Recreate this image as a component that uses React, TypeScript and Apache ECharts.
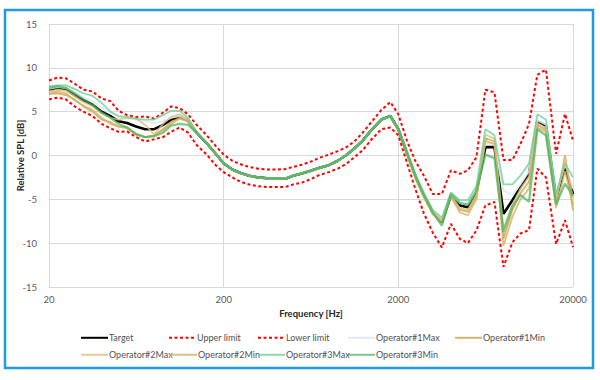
import React, { useEffect, useRef } from "react";
import * as echarts from "echarts";

const freqs = [20, 22.4, 25, 28, 31.5, 35.5, 40, 45, 50, 56, 63, 71, 80, 90, 100, 112, 125, 140, 160, 180, 200, 224, 250, 280, 315, 355, 400, 450, 500, 560, 630, 710, 800, 900, 1000, 1120, 1250, 1400, 1600, 1800, 2000, 2240, 2500, 2800, 3150, 3550, 4000, 4500, 5000, 5600, 6300, 7100, 8000, 9000, 10000, 11200, 12500, 14000, 16000, 18000, 20000];

const xTickLabels = ["20", "200", "2000", "20000"];
const yTicks = [-15, -10, -5, 0, 5, 10, 15];

const target = [7.5, 7.7, 7.6, 6.9, 6.3, 5.8, 5.0, 4.5, 3.9, 3.7, 3.3, 3.0, 3.0, 3.5, 4.1, 4.4, 4.0,
  2.6, 1.4, 0.2, -0.9, -1.6, -2.0, -2.3, -2.5, -2.6, -2.6, -2.65, -2.3, -2.05, -1.75, -1.4, -1.1, -0.6, 0.0, 0.8, 1.7, 2.9, 4.1, 4.5, 3.0,
  0.3, -2.3, -4.5, -6.5, -7.6, -4.6, -5.7, -5.9, -4.2, 0.95, 0.95, -6.65, -5.1, -3.6, -2.1, 3.9, 3.4, -4.9, -1.3, -4.4];

const upperLimit = [8.55, 8.9, 8.8, 8.2, 7.5, 7.3, 6.5, 6.2, 5.1, 4.6, 4.4, 4.45, 4.2, 4.9, 5.6, 5.4, 4.7,
  3.5, 2.3, 1.1, 0.1, -0.6, -1.0, -1.3, -1.5, -1.6, -1.6, -1.55, -1.3, -1.05, -0.7, -0.25, 0.1, 0.5, 0.9, 1.6, 2.6, 3.8, 5.2, 6.1, 4.7,
  1.7, -0.6, -2.3, -4.4, -4.4, -1.7, -2.1, -1.7, -0.2, 7.5, 7.2, -0.5, -0.5, 1.3, 3.6, 9.2, 9.8, 0.2, 4.75, 1.7];

const lowerLimit = [6.4, 6.6, 6.4, 5.6, 5.0, 4.5, 3.6, 3.1, 2.7, 2.75, 2.1, 1.6, 1.85, 2.1, 2.7, 3.2, 2.6,
  1.2, 0.1, -1.1, -1.9, -2.5, -3.0, -3.3, -3.5, -3.6, -3.6, -3.6, -3.3, -3.1, -2.7, -2.2, -1.9, -1.5, -1.0, -0.2, 0.6, 1.8, 3.0, 3.2, 2.3,
  -0.8, -3.8, -6.6, -8.8, -10.5, -7.8, -9.5, -10.0, -8.55, -5.7, -5.3, -12.7, -9.9, -8.9, -8.5, -1.5, -2.5, -10.1, -7.4, -10.45];

const op1Max = [7.6, 7.8, 7.7, 7.2, 6.6, 6.2, 5.4, 4.9, 4.4, 4.2, 4.1, 3.9, 3.7, 3.9, 4.3, 4.5, 4.0,
  2.6, 1.4, 0.2, -0.9, -1.6, -2.0, -2.3, -2.5, -2.6, -2.6, -2.6, -2.3, -2.05, -1.75, -1.4, -1.1, -0.6, 0.0, 0.8, 1.7, 2.9, 4.1, 4.5, 3.0,
  0.4, -2.2, -4.4, -6.4, -7.3, -4.5, -5.4, -5.6, -4.0, 1.5, 1.2, -4.0, -4.5, -3.3, -1.8, 4.0, 3.5, -4.7, -1.0, -3.8];

const op1Min = [7.0, 7.1, 6.9, 6.4, 5.6, 5.0, 4.1, 3.8, 3.3, 3.2, 2.5, 2.1, 2.3, 3.0, 3.8, 4.3, 3.9,
  2.6, 1.4, 0.2, -0.9, -1.6, -2.0, -2.3, -2.5, -2.6, -2.6, -2.7, -2.3, -2.05, -1.75, -1.4, -1.1, -0.6, 0.0, 0.8, 1.7, 2.9, 4.1, 4.4, 2.9,
  0.2, -2.5, -4.7, -6.6, -7.5, -4.6, -6.2, -6.4, -4.7, 2.0, 1.6, -9.5, -6.2, -4.3, -3.0, 3.5, 2.9, -5.4, 0.0, -6.3];

const op2Max = [7.3, 7.5, 7.4, 6.8, 6.1, 5.6, 4.8, 4.3, 4.1, 4.3, 4.2, 3.5, 2.4, 3.6, 4.4, 4.7, 4.1,
  2.6, 1.4, 0.2, -0.9, -1.6, -2.0, -2.3, -2.5, -2.6, -2.6, -2.65, -2.3, -2.05, -1.75, -1.4, -1.1, -0.6, 0.0, 0.8, 1.7, 2.9, 4.1, 4.5, 3.0,
  0.3, -2.3, -4.5, -6.5, -7.4, -4.5, -6.0, -6.2, -4.4, 2.4, 1.9, -8.3, -5.6, -3.8, -2.4, 3.7, 3.1, -5.0, -0.3, -4.8];

const op2Min = [7.1, 7.3, 7.1, 6.3, 5.7, 5.2, 4.3, 3.6, 3.3, 3.1, 2.4, 2.1, 2.2, 2.9, 3.6, 4.2, 3.9,
  2.6, 1.4, 0.2, -0.9, -1.6, -2.0, -2.3, -2.5, -2.6, -2.6, -2.65, -2.3, -2.05, -1.75, -1.4, -1.1, -0.6, 0.0, 0.8, 1.7, 2.9, 4.1, 4.5, 3.0,
  0.1, -2.6, -4.8, -6.7, -7.6, -4.7, -6.5, -6.8, -5.0, 1.7, 1.3, -10.3, -7.0, -5.0, -3.8, 3.2, 2.7, -6.0, -1.8, -5.6];

const op3Max = [7.9, 8.0, 8.0, 7.6, 7.1, 6.8, 6.0, 5.0, 4.5, 4.4, 4.2, 4.1, 4.1, 4.6, 5.1, 5.1, 4.3,
  2.6, 1.4, 0.2, -0.9, -1.6, -2.0, -2.3, -2.5, -2.6, -2.6, -2.65, -2.3, -2.05, -1.75, -1.4, -1.1, -0.6, 0.0, 0.8, 1.7, 2.9, 4.1, 4.5, 3.0,
  0.5, -2.1, -4.3, -6.2, -7.1, -4.2, -5.1, -5.1, -3.5, 3.0, 2.3, -3.3, -3.3, -2.3, -0.9, 4.7, 4.1, -4.4, -0.9, -2.5];

const op3Min = [7.7, 7.9, 7.7, 7.1, 6.4, 5.8, 4.9, 4.3, 3.6, 3.2, 2.4, 2.1, 2.2, 2.6, 3.4, 3.6, 3.5,
  2.6, 1.4, 0.2, -0.9, -1.6, -2.0, -2.3, -2.5, -2.6, -2.6, -2.65, -2.3, -2.05, -1.75, -1.4, -1.1, -0.6, 0.0, 0.8, 1.7, 2.9, 4.1, 4.5, 3.0,
  0.3, -2.3, -4.5, -6.5, -8.0, -4.4, -5.4, -5.6, -4.0, 0.1, -0.3, -8.7, -5.8, -4.5, -5.3, 3.0, 2.3, -5.6, -3.2, -4.6];

const seriesNames = ["Target", "Upper limit", "Lower limit", "Operator#1Max", "Operator#1Min", "Operator#2Max", "Operator#2Min", "Operator#3Max", "Operator#3Min"];
const seriesValues = [target, upperLimit, lowerLimit, op1Max, op1Min, op2Max, op2Min, op3Max, op3Min];

const FONT = "Lato";

export default function App() {
  const ref = useRef<HTMLDivElement>(null);
  useEffect(() => {
    if (!ref.current) return;
    const chart = echarts.init(ref.current, null, { renderer: "svg" });
    const styles: any[] = [
      { color: "#000000", width: 2.6, type: "solid", opacity: 1 },
      { color: "#FF0000", width: 2, type: [3, 2.5], opacity: 1 },
      { color: "#FF0000", width: 2, type: [3, 2.5], opacity: 1 },
      { color: "#DCE9F6", width: 1.8, type: "solid", opacity: 0.9 },
      { color: "#C9A24A", width: 1.8, type: "solid", opacity: 0.8 },
      { color: "#E2BE78", width: 1.8, type: "solid", opacity: 0.8 },
      { color: "#D6B064", width: 1.8, type: "solid", opacity: 0.8 },
      { color: "#6ED29A", width: 1.8, type: "solid", opacity: 0.8 },
      { color: "#3FB55A", width: 2.3, type: "solid", opacity: 0.7 },
    ];
    const series = seriesNames.map((name, i) => ({
      name,
      type: "line",
      showSymbol: false,
      symbol: "none",
      data: freqs.map((f, k) => [Math.log10(f / 20), seriesValues[i][k]]),
      lineStyle: styles[i],
      itemStyle: { color: styles[i].color },
      z: 2,
    }));
    const legendPos = [
      [80, 333], [168, 333], [257, 333], [347, 333], [454, 333],
      [80, 350], [169, 350], [257, 350], [347, 350],
    ];
    const legends = seriesNames.map((name, i) => ({
      show: true,
      type: "plain",
      orient: "horizontal",
      data: [name],
      left: legendPos[i][0],
      top: legendPos[i][1],
      itemWidth: 27,
      itemHeight: 12,
      itemGap: 0,
      padding: 0,
      selectedMode: false,
      itemStyle: { opacity: 0 },
      textStyle: { color: "#505050", fontSize: 9, fontFamily: FONT, padding: [0, 0, 0, -4] },
    }));
    chart.setOption({
      animation: false,
      backgroundColor: "#ffffff",
      textStyle: { fontFamily: FONT },
      grid: { left: 49, right: 27, top: 24, bottom: 93, containLabel: false },
      xAxis: {
        type: "value",
        min: 0,
        max: 3,
        interval: 1,
        name: "Frequency [Hz]",
        nameLocation: "middle",
        nameGap: 20,
        nameTextStyle: { color: "#262626", fontWeight: "bold", fontSize: 9.5, fontFamily: FONT },
        axisLine: { show: true, lineStyle: { color: "#D9D9D9", width: 1 } },
        axisTick: { show: false },
        splitLine: { show: true, lineStyle: { color: "#D9D9D9", width: 1 } },
        axisLabel: {
          color: "#595959",
          fontSize: 9.5,
          fontFamily: FONT,
          margin: 7,
          formatter: (v: number) => xTickLabels[Math.round(v)] ?? "",
        },
      },
      yAxis: {
        type: "value",
        min: yTicks[0],
        max: yTicks[yTicks.length - 1],
        interval: 5,
        name: "Relative SPL [dB]",
        nameLocation: "middle",
        nameGap: 24,
        nameMoveOverlap: false,
        nameTextStyle: { color: "#262626", fontWeight: "bold", fontSize: 9.5, fontFamily: FONT },
        axisLine: { show: true, lineStyle: { color: "#D9D9D9", width: 1 } },
        axisTick: { show: false },
        splitLine: { show: true, lineStyle: { color: "#D9D9D9", width: 1 } },
        axisLabel: { color: "#595959", fontSize: 9.5, fontFamily: FONT, margin: 12 },
      },
      legend: legends,
      graphic: [
        {
          type: "rect",
          shape: { x: 5, y: 10, width: 588, height: 358 },
          style: { fill: "none", stroke: "#1E9BE3", lineWidth: 2.5 },
          silent: true,
          z: 0,
        },
      ],
      series,
    });
    return () => chart.dispose();
  }, []);
  return <div ref={ref} style={{ position: "absolute", left: 0, top: 0, width: 600, height: 380 }} />;
}
